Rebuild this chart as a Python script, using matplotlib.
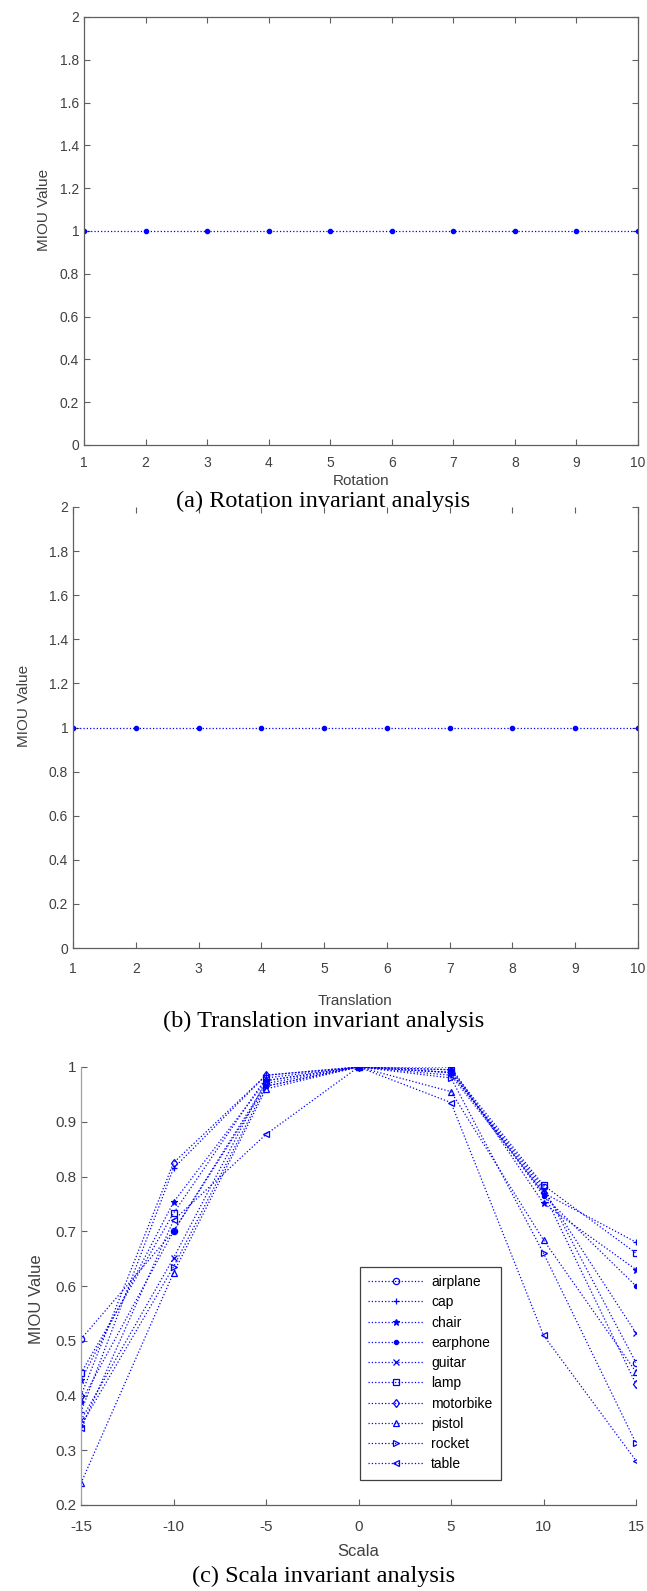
import matplotlib
matplotlib.use('Agg')
import matplotlib.pyplot as plt

plt.rcParams['font.family'] = ['Liberation Sans', 'DejaVu Sans']
plt.rcParams['axes.unicode_minus'] = False

# rotation / translation steps and their MIOU
steps = [1, 2, 3, 4, 5, 6, 7, 8, 9, 10]
miou_rotation = [1, 1, 1, 1, 1, 1, 1, 1, 1, 1]
miou_translation = [1, 1, 1, 1, 1, 1, 1, 1, 1, 1]

# scale changes per category
scales = [-15, -10, -5, 0, 5, 10, 15]
categories = ['airplane', 'cap', 'chair', 'earphone', 'guitar',
              'lamp', 'motorbike', 'pistol', 'rocket', 'table']
miou_airplane = [0.503, 0.700, 0.970, 1.0, 0.990, 0.780, 0.460]
miou_cap = [0.370, 0.815, 0.985, 1.0, 0.985, 0.770, 0.680]
miou_chair = [0.428, 0.753, 0.975, 1.0, 1.000, 0.751, 0.630]
miou_earphone = [0.388, 0.700, 0.965, 1.0, 0.995, 0.765, 0.600]
miou_guitar = [0.355, 0.651, 0.975, 1.0, 0.990, 0.775, 0.514]
miou_lamp = [0.441, 0.733, 0.980, 1.0, 0.995, 0.784, 0.660]
miou_motorbike = [0.400, 0.825, 0.985, 1.0, 0.990, 0.770, 0.421]
miou_pistol = [0.240, 0.624, 0.960, 1.0, 0.955, 0.684, 0.443]
miou_rocket = [0.345, 0.635, 0.965, 1.0, 0.980, 0.660, 0.313]
miou_table = [0.340, 0.720, 0.877, 1.0, 0.935, 0.510, 0.281]
scale_series = [miou_airplane, miou_cap, miou_chair, miou_earphone, miou_guitar,
                miou_lamp, miou_motorbike, miou_pistol, miou_rocket, miou_table]
markers = ['o', '+', '*', '.', 'x', 's', 'd', '^', '>', '<']

W, H = 647, 1591
fig = plt.figure(figsize=(W / 100, H / 100), dpi=100)


def box(left, top, right, bottom):
    return [left / W, 1 - bottom / H, (right - left) / W, (bottom - top) / H]


def style_axes(ax, full_box=True):
    for side in ['left', 'bottom', 'right', 'top']:
        ax.spines[side].set_color('#606060')
        ax.spines[side].set_linewidth(0.9)
    ax.tick_params(direction='in', length=4, width=0.8, colors='#606060',
                   labelcolor='#404040', top=full_box, right=full_box)


def fmt(v):
    return '%g' % v


# (a) rotation
ax1 = fig.add_axes(box(84, 17, 638, 445))
ax1.plot(steps, miou_rotation, ':', color='blue', lw=0.9, marker='.', ms=6)
ax1.set_xlim(1, 10)
ax1.set_ylim(0, 2)
ax1.set_xticks(steps)
yt = [0, 0.2, 0.4, 0.6, 0.8, 1, 1.2, 1.4, 1.6, 1.8, 2]
ax1.set_yticks(yt)
ax1.set_yticklabels([fmt(v) for v in yt])
ax1.tick_params(labelsize=10)
ax1.tick_params(axis='x', pad=8)
style_axes(ax1)
ax1.set_xlabel('Rotation', fontsize=11, color='#404040')
ax1.set_ylabel('MIOU Value', fontsize=11, color='#404040')
ax1.xaxis.set_label_coords(0.5, -0.068)
ax1.yaxis.set_label_coords(-0.06, 0.55)
fig.text(0.5, 1 - 501 / H, '(a) Rotation invariant analysis', ha='center', va='center',
         fontsize=17.5, family='Liberation Serif')

# (b) translation
ax2 = fig.add_axes(box(73, 507, 638, 948))
ax2.plot(steps, miou_translation, ':', color='blue', lw=0.9, marker='.', ms=6)
ax2.set_xlim(1, 10)
ax2.set_ylim(0, 2)
ax2.set_xticks(steps)
ax2.set_yticks(yt)
ax2.set_yticklabels([fmt(v) for v in yt])
ax2.tick_params(labelsize=10)
ax2.tick_params(axis='x', pad=10)
style_axes(ax2)
ax2.spines['top'].set_visible(False)
ax2.set_xlabel('Translation', fontsize=11, color='#404040')
ax2.set_ylabel('MIOU Value', fontsize=11, color='#404040')
ax2.xaxis.set_label_coords(0.5, -0.105)
ax2.yaxis.set_label_coords(-0.075, 0.55)
fig.text(0.5, 1 - 1021 / H, '(b) Translation invariant analysis', ha='center', va='center',
         fontsize=17.5, family='Liberation Serif')

# (c) scale
ax3 = fig.add_axes(box(81, 1067, 636, 1505))
for name, vals, mk in zip(categories, scale_series, markers):
    filled = mk in ('*', '.')
    ax3.plot(scales, vals, ':', color='blue', lw=0.9, marker=mk,
             ms=6 if mk == '.' else 4.5, mew=0.9,
             mfc='blue' if filled else 'none', mec='blue', label=name)
ax3.set_xlim(-15, 15)
ax3.set_ylim(0.2, 1)
ax3.set_xticks(scales)
yt3 = [0.2, 0.3, 0.4, 0.5, 0.6, 0.7, 0.8, 0.9, 1]
ax3.set_yticks(yt3)
ax3.set_yticklabels([fmt(v) for v in yt3])
ax3.tick_params(labelsize=11)
ax3.tick_params(axis='x', pad=11)
style_axes(ax3, full_box=False)
ax3.spines['left'].set_color('#a0a0a0')
ax3.spines['top'].set_visible(False)
ax3.spines['right'].set_visible(False)
ax3.set_xlabel('Scala', fontsize=12, color='#404040')
ax3.set_ylabel('MIOU Value', fontsize=12, color='#404040')
ax3.xaxis.set_label_coords(0.5, -0.088)
ax3.yaxis.set_label_coords(-0.067, 0.47)
leg = ax3.legend(loc='lower left', bbox_to_anchor=(0.503, 0.058), borderaxespad=0,
                 fontsize=10, handlelength=4.0, handletextpad=0.5, labelspacing=0.45,
                 fancybox=False, framealpha=1, edgecolor='#404040', borderpad=0.6)
leg.get_frame().set_linewidth(0.9)
fig.text(0.5, 1 - 1576 / H, '(c) Scala invariant analysis', ha='center', va='center',
         fontsize=17.5, family='Liberation Serif')

fig.savefig('out.png', dpi=100)
